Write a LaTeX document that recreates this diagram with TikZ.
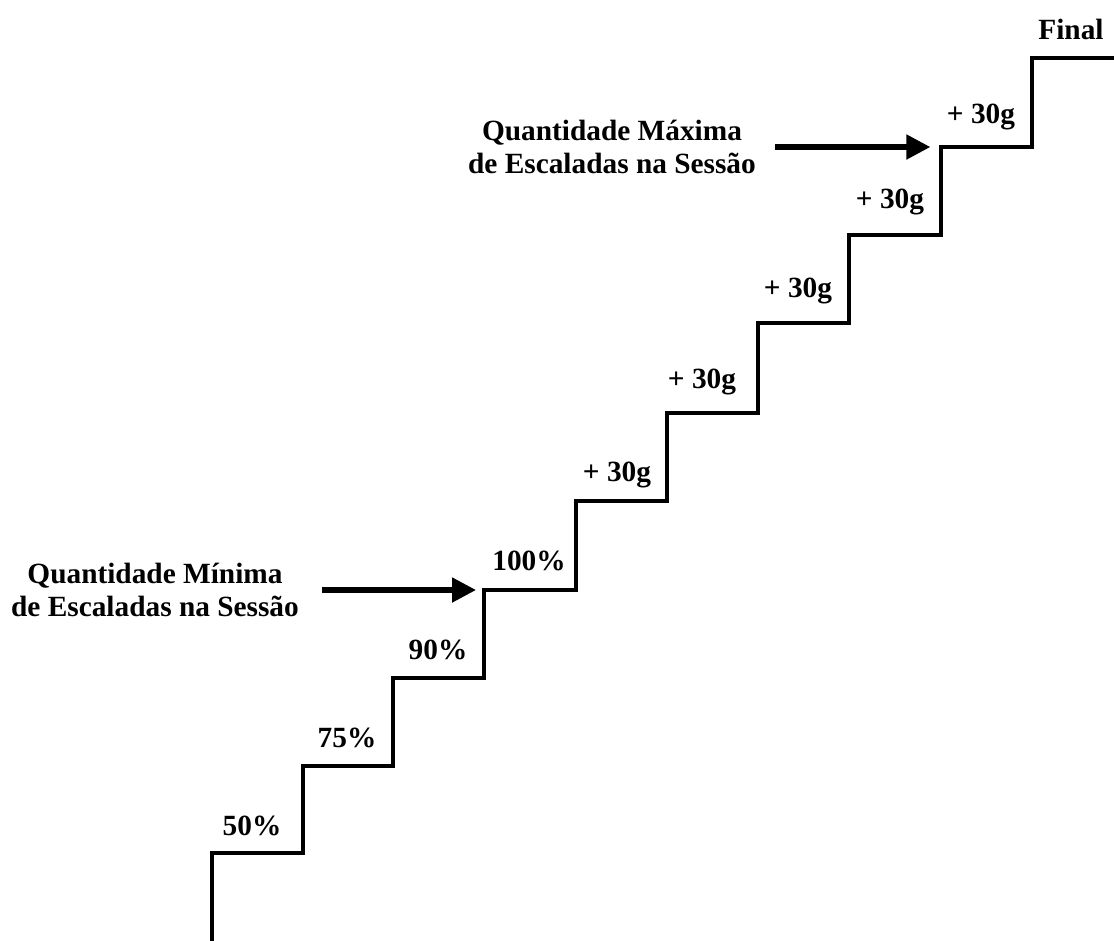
\documentclass[tikz,border=0pt]{standalone}
\usepackage{fontspec}
\setmainfont{Liberation Serif}
\usetikzlibrary{arrows.meta}

\begin{document}
\begin{tikzpicture}[x=0.75pt, y=-0.75pt, font=\bfseries\fontsize{22}{24.75}\selectfont,
  stair/.style={line width=3pt, line join=miter},
  steplbl/.style={anchor=base, inner sep=0pt},
  sidelbl/.style={align=center, inner sep=0pt},
  bigarrow/.style={line width=3.8pt, -{Triangle[length=18pt, width=18pt]}}]
\useasboundingbox (0,0) rectangle (1114,940);
% the stairs
\draw[stair] (212,942) -- (212,853) -- (303,853) -- (303,766) -- (393,766) -- (393,678) -- (484,678) -- (484,590) -- (576,590) -- (576,501) -- (667,501) -- (667,413) -- (758,413) -- (758,323) -- (849,323) -- (849,235) -- (941,235) -- (941,147) -- (1032,147) -- (1032,58) -- (1116,58);
\coordinate (cmin) at (484,590);
\coordinate (cmax) at (941,147);
% step labels
\node[steplbl] (l50) at (252,835) {50\%};
\node[steplbl] (l75) at (347,747) {75\%};
\node[steplbl] (l90) at (438,659) {90\%};
\node[steplbl] (l100) at (529,570) {100\%};
\node[steplbl] (g1) at (617,481) {+ 30g};
\node[steplbl] (g2) at (702,388) {+ 30g};
\node[steplbl] (g3) at (798,297) {+ 30g};
\node[steplbl] (g4) at (890,208) {+ 30g};
\node[steplbl] (g5) at (981,123) {+ 30g};
\node[steplbl] (fin) at (1071,39) {Final};
% min and max
\node[sidelbl] (qmin) at (155,590) {Quantidade Mínima\\de Escaladas na Sessão};
\node[sidelbl] (qmax) at (612,147) {Quantidade Máxima\\de Escaladas na Sessão};
\draw[bigarrow, shorten <=17pt, shorten >=6pt] (qmin.east) -- (cmin);
\draw[bigarrow, shorten <=14pt, shorten >=8pt] (qmax.east) -- (cmax);
\end{tikzpicture}
\end{document}
